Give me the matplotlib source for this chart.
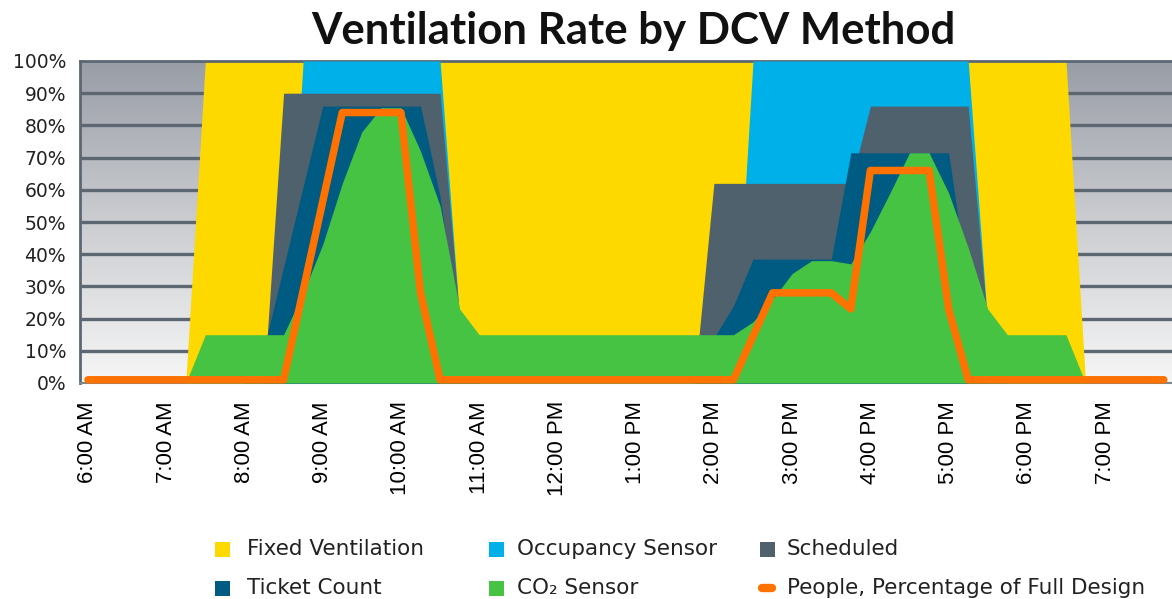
import numpy as np
import matplotlib
matplotlib.use("Agg")
import matplotlib.pyplot as plt
from matplotlib.colors import LinearSegmentedColormap
from matplotlib.patches import Rectangle
from matplotlib.lines import Line2D

# time in hours (15 min steps), value in % of design ventilation
fixed_t = [6, 7.25, 7.5, 18.5, 18.75, 19.75]
fixed_v = [0, 0, 100, 100, 0, 0]

occupancy_t = [6, 8.5, 8.75, 10.5, 10.75, 11, 14.25, 14.5, 17.25, 17.5, 17.75, 19.75]
occupancy_v = [0, 0, 100, 100, 20, 0, 0, 100, 100, 18, 0, 0]

scheduled_t = [6, 8.25, 8.5, 10.5, 10.75, 11, 13.75, 14, 15.75, 16, 17.25, 17.5, 17.75, 19.75]
scheduled_v = [0, 0, 90, 90, 20, 0, 0, 62, 62, 86, 86, 18, 0, 0]

ticket_t = [6, 8, 8.25, 8.5, 8.75, 9, 10.25, 10.5, 10.75, 11,
            13.75, 14, 14.25, 14.5, 15.5, 15.75, 17, 17.25, 17.5, 19.75]
ticket_v = [0, 0, 11, 36, 61, 86, 86, 58, 15, 0,
            0, 14, 24, 38.5, 38.5, 71.5, 71.5, 30, 0, 0]

co2_t = [6, 7.25, 7.5, 8.5, 8.75, 9, 9.25, 9.5, 9.75, 10, 10.25, 10.5, 10.75, 11,
         14.25, 14.5, 14.75, 15, 15.25, 15.5, 15.75, 16, 16.25, 16.5, 16.75, 17,
         17.25, 17.5, 17.75, 18.5, 18.75, 19.75]
co2_v = [0, 0, 15, 15, 28, 43, 62, 78, 85.5, 85.5, 72, 55, 23, 15,
         15, 19, 26, 34, 38, 38, 37, 47, 59, 71.5, 71.5, 59,
         42, 23, 15, 15, 0, 0]

people_t = [6, 8.5, 9.25, 10, 10.25, 10.5, 14.25, 14.75, 15.5, 15.75, 16, 16.75, 17, 17.25, 19.75]
people_v = [1, 1, 84, 84, 28, 1, 1, 28, 28, 23, 66, 66, 23, 1, 1]

hour_ticks = list(range(6, 20))
hour_labels = ["6:00 AM", "7:00 AM", "8:00 AM", "9:00 AM", "10:00 AM", "11:00 AM", "12:00 PM",
               "1:00 PM", "2:00 PM", "3:00 PM", "4:00 PM", "5:00 PM", "6:00 PM", "7:00 PM"]

colors = {"fixed": "#fdd900", "occ": "#00b1e9", "sched": "#50616e",
          "ticket": "#005b82", "co2": "#46c343", "people": "#ff7200"}

W, H = 1172, 599
fig = plt.figure(figsize=(W / 100, H / 100), dpi=100)
ax = fig.add_axes([80 / W, 1 - 383 / H, (W - 80) / W, (383 - 61) / H])

x0, x1 = 5.898, 19.855
bg = LinearSegmentedColormap.from_list("bg", ["#f6f6f6", "#cbcdd1", "#999da6"])
grad = np.linspace(0, 1, 256).reshape(-1, 1)
ax.imshow(grad, extent=[x0, x1, 0, 100], origin="lower", aspect="auto", cmap=bg, zorder=0)
for v in range(10, 100, 10):
    ax.axhline(v, color="#5c6772", lw=2.4, zorder=1)

areas = [(fixed_t, fixed_v, colors["fixed"]),
         (occupancy_t, occupancy_v, colors["occ"]),
         (scheduled_t, scheduled_v, colors["sched"]),
         (ticket_t, ticket_v, colors["ticket"]),
         (co2_t, co2_v, colors["co2"])]
for i, (t, v, c) in enumerate(areas):
    ax.fill_between(t, 0, v, color=c, lw=0, zorder=2 + i)

ax.plot(people_t, people_v, color=colors["people"], lw=5.4, solid_joinstyle="round",
        solid_capstyle="round", zorder=10, clip_on=False)

ax.set_xlim(x0, x1)
ax.set_ylim(0, 100)
ax.set_xticks(hour_ticks)
ax.set_xticklabels(hour_labels, rotation=90, fontsize=16, family="Liberation Sans",
                   va="top", ha="center")
ax.set_yticks(range(0, 101, 10))
ax.set_yticklabels([f"{v}%" for v in range(0, 101, 10)], fontsize=13.5, color="#222222")
ax.tick_params(axis="x", length=0, pad=13)
ax.tick_params(axis="y", length=0, pad=10)
for s in ["left", "top"]:
    ax.spines[s].set_color("#5c6772")
    ax.spines[s].set_linewidth(2)
ax.spines["bottom"].set_color("#7d858d")
ax.spines["bottom"].set_linewidth(1.5)
ax.spines["right"].set_visible(False)

fig.text(633 / W, 1 - 31 / H, "Ventilation Rate by DCV Method", family="Lato",
         weight="bold", fontsize=31.5, ha="center", va="center", color="#111111")

# legend, laid out by hand in three columns
legend_items = [("Fixed Ventilation", colors["fixed"], 223, 549, 247),
                ("Occupancy Sensor", colors["occ"], 496, 549, 517),
                ("Scheduled", colors["sched"], 767, 549, 787),
                ("Ticket Count", colors["ticket"], 223, 588, 247),
                ("CO₂ Sensor", colors["co2"], 496, 588, 517),
                ("People, Percentage of Full Design", colors["people"], 767, 588, 787)]
sq = 15
for label, c, mx, my, tx in legend_items:
    if label.startswith("People"):
        fig.add_artist(Line2D([(mx - 5) / W, (mx + 5) / W], [1 - my / H, 1 - my / H],
                              color=c, lw=6, solid_capstyle="round"))
    else:
        fig.add_artist(Rectangle(((mx - sq / 2) / W, 1 - (my + sq / 2) / H), sq / W, sq / H,
                                 color=c, lw=0))
    fig.text(tx / W, 1 - my / H, label, fontsize=15.5, va="center", ha="left",
             family=["DejaVu Sans"], color="#222222")

fig.savefig("out.png", dpi=100)
